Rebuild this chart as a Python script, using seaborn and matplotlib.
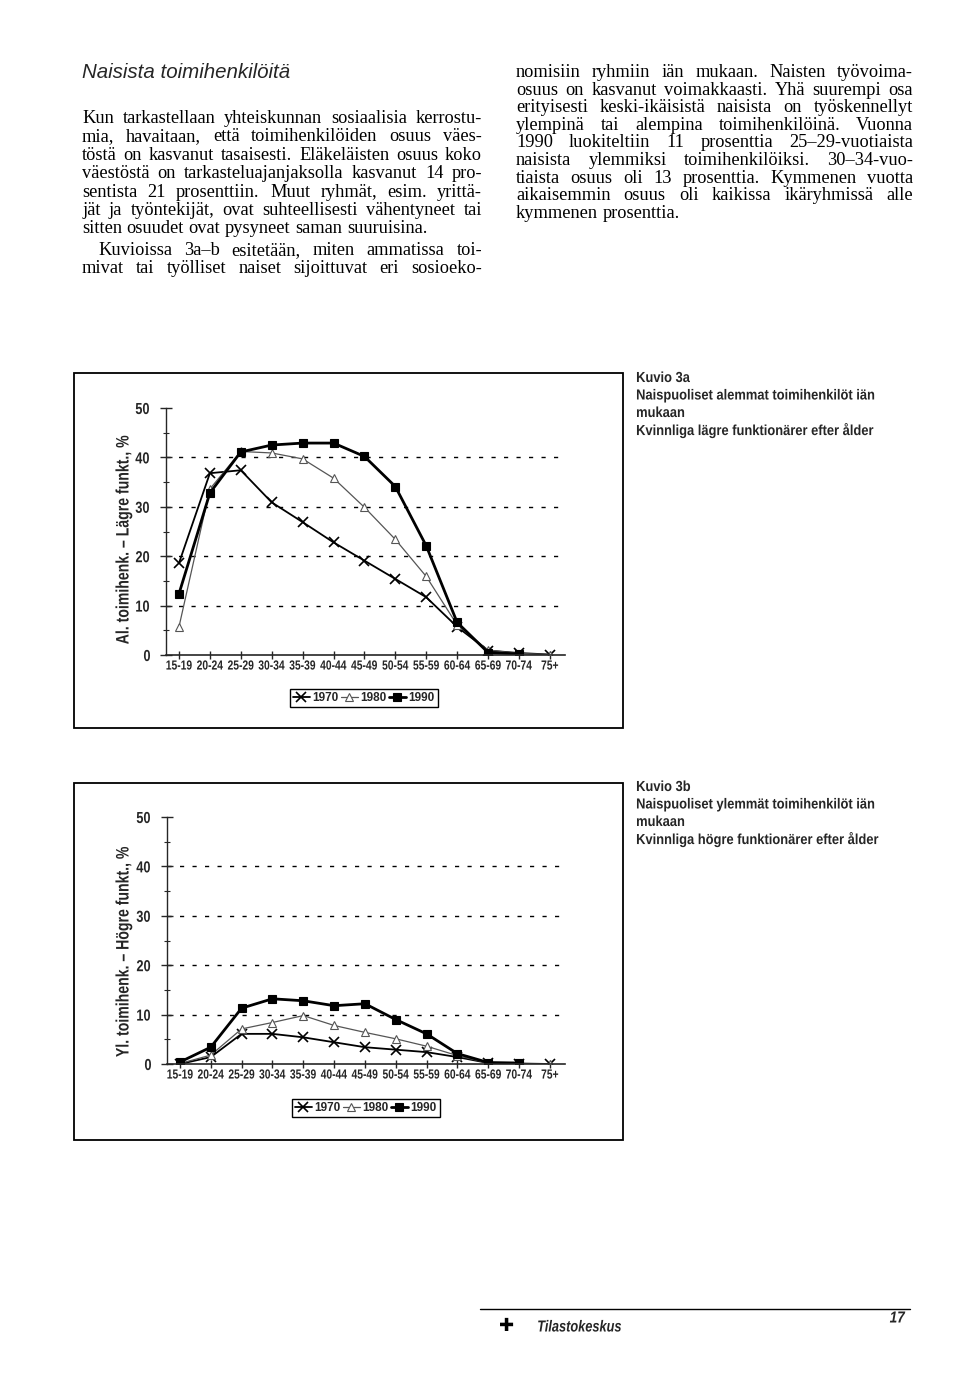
import numpy as np
import seaborn as sns
import matplotlib
matplotlib.use('Agg')
import matplotlib.pyplot as plt
from matplotlib.patches import Rectangle
from matplotlib.lines import Line2D
from matplotlib.patheffects import AbstractPathEffect
from matplotlib.transforms import Affine2D

# ikäryhmät ja osuudet (%) luettu kuvasta
ages = ['15-19', '20-24', '25-29', '30-34', '35-39', '40-44', '45-49',
        '50-54', '55-59', '60-64', '65-69', '70-74', '75+']
years = ['1970', '1980', '1990']

# Kuvio 3a: alemmat toimihenkilöt
low_1970 = [18.6, 36.8, 37.4, 30.9, 26.9, 22.8, 19.1, 15.4, 11.7, 5.7, 0.9, 0.4, 0.1]
low_1980 = [5.7, 33.6, 41.2, 40.9, 39.7, 35.8, 29.9, 23.4, 15.9, 6.1, 1.0, 0.3, 0.1]
low_1990 = [12.4, 32.8, 41.1, 42.5, 42.9, 42.9, 40.2, 34.1, 22.1, 6.6, 0.5, 0.2, np.nan]

# Kuvio 3b: ylemmät toimihenkilöt
high_1970 = [0.0, 1.4, 6.1, 6.1, 5.4, 4.4, 3.4, 2.9, 2.4, 1.4, 0.2, 0.1, 0.0]
high_1980 = [0.1, 1.8, 7.1, 8.4, 9.8, 7.8, 6.4, 5.1, 3.6, 1.7, 0.2, 0.1, 0.0]
high_1990 = [0.4, 3.4, 11.3, 13.2, 12.8, 11.8, 12.2, 9.0, 6.1, 2.1, 0.3, 0.2, np.nan]

left_col = [
    ("Kun tarkastellaan yhteiskunnan sosiaalisia kerrostu-", False),
    ("mia, havaitaan, että toimihenkilöiden osuus väes-", False),
    ("töstä on kasvanut tasaisesti. Eläkeläisten osuus koko", False),
    ("väestöstä on tarkasteluajanjaksolla kasvanut 14 pro-", False),
    ("sentista 21 prosenttiin. Muut ryhmät, esim. yrittä-", False),
    ("jät ja työntekijät, ovat suhteellisesti vähentyneet tai", False),
    ("sitten osuudet ovat pysyneet saman suuruisina.", True),
    ("Kuvioissa 3a–b esitetään, miten ammatissa toi-", False),
    ("mivat tai työlliset naiset sijoittuvat eri sosioeko-", False),
]
right_col = [
    ("nomisiin ryhmiin iän mukaan. Naisten työvoima-", False),
    ("osuus on kasvanut voimakkaasti. Yhä suurempi osa", False),
    ("erityisesti keski-ikäisistä naisista on työskennellyt", False),
    ("ylempinä tai alempina toimihenkilöinä. Vuonna", False),
    ("1990 luokiteltiin 11 prosenttia 25–29-vuotiaista", False),
    ("naisista ylemmiksi toimihenkilöiksi. 30–34-vuo-", False),
    ("tiaista osuus oli 13 prosenttia. Kymmenen vuotta", False),
    ("aikaisemmin osuus oli kaikissa ikäryhmissä alle", False),
    ("kymmenen prosenttia.", True),
]


class Condense(AbstractPathEffect):
    # kapeampi kirjasin: puristetaan tekstiä vaakasuunnassa
    def __init__(self, sx, anchor='center'):
        super().__init__()
        self.sx = sx
        self.anchor = anchor

    def draw_path(self, renderer, gc, tpath, affine, rgbFace=None):
        ext = tpath.get_extents()
        cx = ext.x0 if self.anchor == 'left' else (ext.x0 + ext.x1) / 2
        a = Affine2D().translate(-cx, 0).scale(self.sx, 1).translate(cx, 0) + affine
        renderer.draw_path(gc, tpath, a, rgbFace)


sns.set_style('ticks')
sans = ['Liberation Sans', 'DejaVu Sans']
serif = ['Liberation Serif', 'DejaVu Serif']
plt.rcParams['font.family'] = sans

W, H = 960, 1383
fig = plt.figure(figsize=(9.6, 13.83), dpi=100)
fig.patch.set_facecolor('white')


def fx(x):
    return x / W


def fy(y):
    return 1 - y / H


renderer = fig.canvas.get_renderer()


def text_width(s, **kw):
    t = fig.text(0, 0, s, **kw)
    w = t.get_window_extent(renderer=renderer).width
    t.remove()
    return w


def justified(lines, x0, x1, y0, step, gap_after=None, indent_at=None):
    kw = dict(fontsize=13.2, family=serif, color='black')
    space = text_width('x x', **kw) - text_width('xx', **kw)
    y = y0
    for i, (line, last) in enumerate(lines):
        words = line.split(' ')
        left = x0 + (16 if indent_at is not None and i == indent_at else 0)
        widths = [text_width(w, **kw) for w in words]
        if last or len(words) == 1:
            gap = space
        else:
            gap = (x1 - left - sum(widths)) / (len(words) - 1)
        x = left
        for w, wd in zip(words, widths):
            fig.text(fx(x), fy(y), w, va='baseline', ha='left', **kw)
            x += wd + gap
        y += step
        if gap_after is not None and i == gap_after:
            y += 3


# otsikko ja leipäteksti
fig.text(fx(82), fy(72), 'Naisista toimihenkilöitä', fontsize=14.8, style='italic',
         family=sans, va='center', ha='left')
justified(left_col, 82, 482, 123, 18.4, gap_after=6, indent_at=7)
justified(right_col, 516, 913, 77, 17.6)


def draw_chart(ax, s70, s80, s90):
    pos = np.arange(len(ages))
    sns.lineplot(x=pos, y=s70, ax=ax, color='black', lw=1.3, marker='x',
                 markersize=7, markeredgewidth=1.2, markeredgecolor='black',
                 label=years[0])
    sns.lineplot(x=pos, y=s80, ax=ax, color='#555555', lw=0.9, marker='^',
                 markersize=6, markerfacecolor='white', markeredgecolor='#555555',
                 markeredgewidth=0.8, label=years[1])
    sns.lineplot(x=pos, y=s90, ax=ax, color='black', lw=2.0, marker='s',
                 markersize=6, markeredgecolor='black', markeredgewidth=0.8,
                 label=years[2])
    for g in [10, 20, 30, 40]:
        ax.axhline(g, color='black', lw=1.0, ls=(0, (3, 6)), zorder=0)
    ax.set_xlim(-0.42, 12.49)
    ax.set_ylim(0, 50)
    ax.set_xticks(pos)
    ax.set_xticklabels(ages, fontsize=9.5, fontweight='bold')
    ax.set_yticks([0, 10, 20, 30, 40, 50])
    ax.set_yticklabels(['0', '10', '20', '30', '40', '50'], fontsize=11.5,
                       fontweight='bold')
    ax.set_yticks(np.arange(5, 50, 5), minor=True)
    ax.tick_params(axis='y', which='major', direction='inout', length=9, width=1, pad=6)
    ax.tick_params(axis='y', which='minor', direction='inout', length=4, width=0.8)
    ax.tick_params(axis='x', which='major', direction='inout', length=6, width=1, pad=1)
    for t in ax.get_xticklabels():
        t.set_path_effects([Condense(0.78)])
    for t in ax.get_yticklabels():
        t.set_path_effects([Condense(0.8)])
    for side in ['top', 'right']:
        ax.spines[side].set_visible(False)
    ax.spines['left'].set_linewidth(1.0)
    ax.spines['bottom'].set_linewidth(1.2)
    ax.set_xlabel('')
    ax.set_ylabel('')
    ax.patch.set_alpha(0)


def add_legend(ax, cx, cy):
    handles, labels = ax.get_legend_handles_labels()
    ax.legend(handles, labels, loc='center', bbox_to_anchor=(fx(cx), fy(cy)),
              bbox_transform=fig.transFigure, ncol=3, frameon=True, fancybox=False,
              edgecolor='black', framealpha=1, handlelength=1.4, handletextpad=0.25,
              columnspacing=0.2, borderpad=0.25, borderaxespad=0,
              prop={'family': sans, 'weight': 'bold', 'size': 8.5})
    ax.get_legend().get_frame().set_linewidth(1.0)


# Kuvio 3a
fig.add_artist(Rectangle((fx(74), fy(728)), fx(623 - 74), (728 - 373) / H,
                         transform=fig.transFigure, fill=False, lw=1.3, color='black'))
ax1 = fig.add_axes([fx(166), fy(655), fx(565 - 166), 247 / H])
draw_chart(ax1, low_1970, low_1980, low_1990)
add_legend(ax1, 364, 698)
fig.text(fx(124), fy(540), 'Al. toimihenk. – Lägre funkt., %', rotation=90,
         fontsize=13, fontweight='bold', family=sans, va='center', ha='center',
         path_effects=[Condense(0.78)])

# Kuvio 3b
fig.add_artist(Rectangle((fx(74), fy(1140)), fx(623 - 74), (1140 - 783) / H,
                         transform=fig.transFigure, fill=False, lw=1.3, color='black'))
ax2 = fig.add_axes([fx(167), fy(1064), fx(565 - 167), 247 / H])
draw_chart(ax2, high_1970, high_1980, high_1990)
add_legend(ax2, 366, 1108)
fig.text(fx(124), fy(952), 'Yl. toimihenk. – Högre funkt., %', rotation=90,
         fontsize=13, fontweight='bold', family=sans, va='center', ha='center',
         path_effects=[Condense(0.78)])

# kuvatekstit
cap_kw = dict(fontsize=10.5, fontweight='bold', family=sans, va='center', ha='left',
              path_effects=[Condense(0.885, anchor='left')])
for i, s in enumerate(['Kuvio 3a', 'Naispuoliset alemmat toimihenkilöt iän', 'mukaan',
                       'Kvinnliga lägre funktionärer efter ålder']):
    fig.text(fx(636), fy(378 + i * 17.5), s, **cap_kw)
for i, s in enumerate(['Kuvio 3b', 'Naispuoliset ylemmät toimihenkilöt iän', 'mukaan',
                       'Kvinnliga högre funktionärer efter ålder']):
    fig.text(fx(636), fy(787 + i * 17.5), s, **cap_kw)

# alatunniste
fig.add_artist(Line2D([fx(480), fx(910)], [fy(1309), fy(1309)], transform=fig.transFigure,
                      color='black', lw=1.0))
fig.text(fx(507), fy(1326), '✚', fontsize=13, family=['DejaVu Sans'], va='center',
         ha='center', color='black')
fig.text(fx(537), fy(1327), 'Tilastokeskus', fontsize=11.5, style='italic', fontweight='bold',
         family=sans, va='center', ha='left', path_effects=[Condense(0.8, anchor='left')])
fig.text(fx(906), fy(1318), '17', fontsize=11.5, style='italic', fontweight='bold',
         family=sans, va='center', ha='right', path_effects=[Condense(0.85)])

fig.savefig('out.png', dpi=100, facecolor='white')
